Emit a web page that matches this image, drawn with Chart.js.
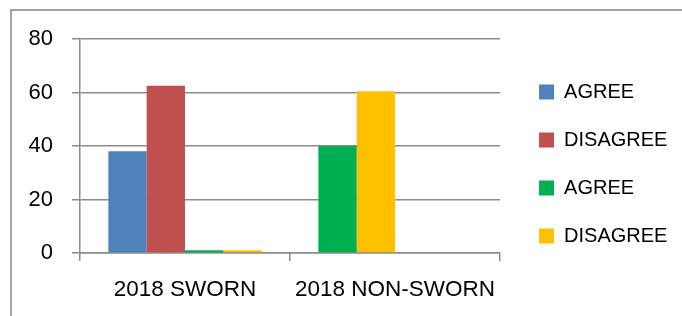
<!DOCTYPE html>
<html>
<head>
<meta charset="utf-8">
<script src="https://cdn.jsdelivr.net/npm/chart.js@4/dist/chart.umd.min.js"></script>
<style>
  body { margin: 0; background: #fff; }
  #wrap { position: relative; width: 682px; height: 316px; overflow: hidden; }
  #frame { position: absolute; left: 10px; top: 9px; width: 700px; height: 340px;
           border-top: 2px solid #a3a3a3; border-left: 2px solid #a3a3a3; }
  canvas { position: absolute; left: 0; top: 0; }
</style>
</head>
<body>
<div id="wrap">
  <div id="frame"></div>
  <canvas id="chart" width="682" height="316"></canvas>
</div>
<script>
// categories
var categories = ["2018 SWORN", "2018 NON-SWORN"];
// series (legend names as in the sheet)
var seriesNames = ["AGREE", "DISAGREE", "AGREE", "DISAGREE"];
var agree1 = [38, 40];
var disagree1 = [62.5, 60.5];
var agree2 = [1, 0];
var disagree2 = [1, 0];
var yTicks = [0, 20, 40, 60, 80];

var blue = "#4F81BD", red = "#C0504D", green = "#00B050", yellow = "#FFC000";
var legendColors = [blue, red, green, yellow];
var gridColor = "#8c8c8c";
var font = "'Liberation Sans', Arial, sans-serif";

new Chart(document.getElementById("chart"), {
    type: "bar",
    data: {
        labels: categories,
        datasets: [
            { label: seriesNames[0], data: agree1, backgroundColor: [blue, green] },
            { label: seriesNames[1], data: disagree1, backgroundColor: [red, yellow] },
            { label: seriesNames[2], data: agree2, backgroundColor: green },
            { label: seriesNames[3], data: disagree2, backgroundColor: yellow }
        ]
    },
    options: {
        responsive: false,
        devicePixelRatio: 1,
        animation: false,
        layout: { padding: { left: 0, top: 39, right: 4.6, bottom: 13 } },
        datasets: { bar: { categoryPercentage: 0.73, barPercentage: 1 } },
        scales: {
            x: {
                grid: { offset: true, drawOnChartArea: false, tickLength: 8, color: gridColor, lineWidth: 1.5 },
                border: { color: gridColor, width: 1.5 },
                ticks: { color: "#000", padding: 15, maxRotation: 0, autoSkip: false,
                         font: { family: font, size: 22.5 } },
                afterFit: function (scale) {
                    scale.height = 50;
                    scale.paddingLeft = 0;
                    scale.paddingRight = 0;
                }
            },
            y: {
                min: 0, max: 80,
                afterBuildTicks: function (scale) {
                    scale.ticks = yTicks.map(function (v) { return { value: v }; });
                },
                grid: { tickLength: 8, color: gridColor, lineWidth: 1.5 },
                border: { color: gridColor, width: 1.5 },
                ticks: { color: "#000", padding: 19, font: { family: font, size: 22 } },
                afterFit: function (scale) { scale.width = 80; }
            },
            spacer: {
                type: "linear", position: "right", display: true,
                grid: { display: false }, border: { display: false },
                ticks: { display: false },
                afterFit: function (scale) { scale.width = 11; }
            }
        },
        plugins: {
            tooltip: { enabled: false },
            legend: {
                position: "right",
                align: "start",
                maxWidth: 200,
                title: { display: true, text: " ", padding: 2.5, font: { size: 10, lineHeight: 1 } },
                labels: {
                    color: "#000",
                    boxWidth: 15,
                    boxHeight: 15,
                    padding: 28,
                    font: { family: font, size: 20 },
                    generateLabels: function (chart) {
                        var items = Chart.defaults.plugins.legend.labels.generateLabels(chart);
                        items.forEach(function (it, i) {
                            it.fillStyle = legendColors[i];
                            it.strokeStyle = legendColors[i];
                            it.lineWidth = 0;
                        });
                        return items;
                    }
                }
            }
        }
    }
});
</script>
</body>
</html>
